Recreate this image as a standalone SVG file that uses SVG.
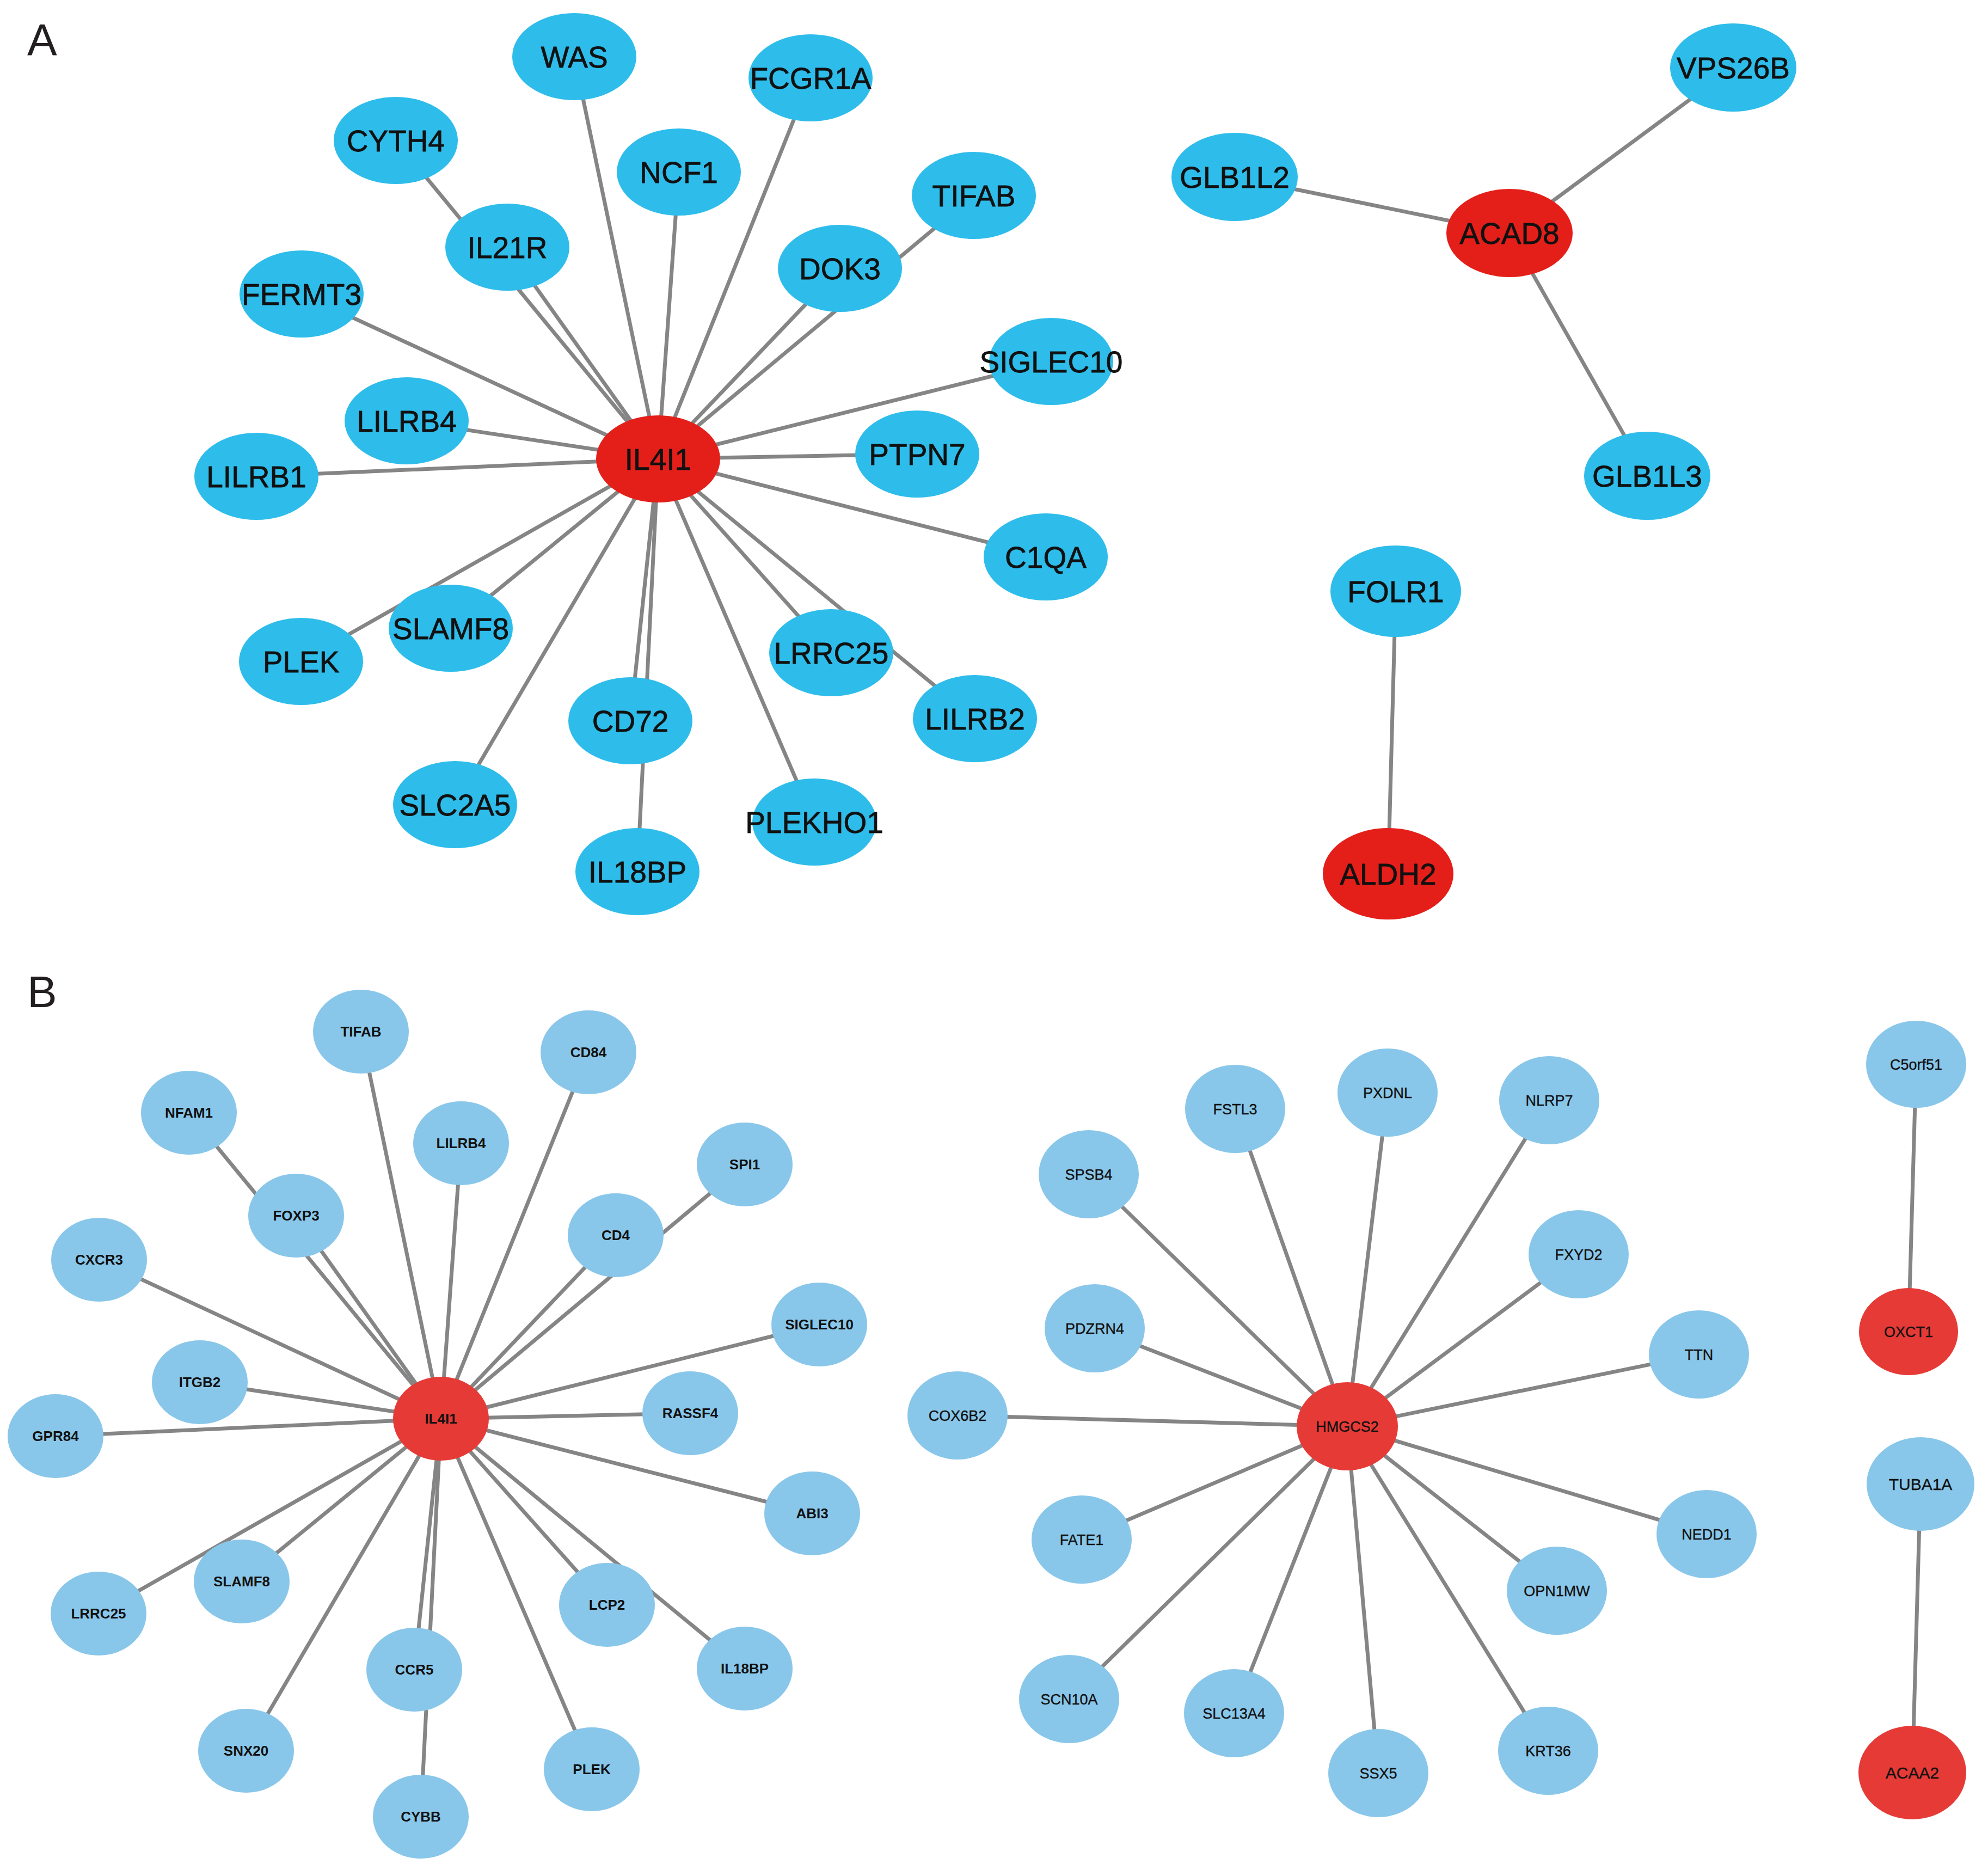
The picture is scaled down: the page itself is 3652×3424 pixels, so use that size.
<svg xmlns="http://www.w3.org/2000/svg" width="3652" height="3424" viewBox="0 0 3652 3424">
<style>
.bg{fill:#ffffff}
.e line{stroke:#858585;stroke-width:7;stroke-linecap:butt}
.na{fill:#2EBDEB}
.ra{fill:#E41F1A}
.nb{fill:#89C7EA}
.rb{fill:#E63A36}
text{font-family:"Liberation Sans",Arial,sans-serif;text-anchor:middle;fill:#111111}
.ta{font-size:55px;stroke:#111111;stroke-width:0.8}
.tb{font-size:26px;font-weight:bold}
.tc{font-size:27px;stroke:#111111;stroke-width:0.4}
.td{font-size:30px;stroke:#111111;stroke-width:0.4}
.lab{font-size:82px;text-anchor:start;fill:#231f20}
</style>
<rect class="bg" x="0" y="0" width="3652" height="3424"/>
<text class="lab" x="50" y="101">A</text>
<text class="lab" x="50" y="1850">B</text>
<g id="connectors" class="e">
<!-- Panel A IL4I1 -->
<line x1="1209" y1="843" x2="1055" y2="104"/>
<line x1="1209" y1="843" x2="1489" y2="143"/>
<line x1="1209" y1="843" x2="727" y2="258"/>
<line x1="1209" y1="843" x2="1247" y2="316"/>
<line x1="1209" y1="843" x2="1789" y2="359"/>
<line x1="1209" y1="843" x2="932" y2="454"/>
<line x1="1209" y1="843" x2="1543" y2="493"/>
<line x1="1209" y1="843" x2="554" y2="540"/>
<line x1="1209" y1="843" x2="1931" y2="664"/>
<line x1="1209" y1="843" x2="747" y2="773"/>
<line x1="1209" y1="843" x2="1685" y2="834"/>
<line x1="1209" y1="843" x2="471" y2="875"/>
<line x1="1209" y1="843" x2="1921" y2="1023"/>
<line x1="1209" y1="843" x2="828" y2="1154"/>
<line x1="1209" y1="843" x2="553" y2="1215"/>
<line x1="1209" y1="843" x2="1527" y2="1199"/>
<line x1="1209" y1="843" x2="1791" y2="1320"/>
<line x1="1209" y1="843" x2="1158" y2="1324"/>
<line x1="1209" y1="843" x2="836" y2="1478"/>
<line x1="1209" y1="843" x2="1496" y2="1510"/>
<line x1="1209" y1="843" x2="1171" y2="1601"/>
<!-- Panel A ACAD8 / ALDH2 -->
<line x1="2773" y1="428" x2="2268" y2="325"/>
<line x1="2773" y1="428" x2="3184" y2="124"/>
<line x1="2773" y1="428" x2="3026" y2="874"/>
<line x1="2564" y1="1086" x2="2550" y2="1605"/>
<!-- Panel B IL4I1 -->
<line x1="810" y1="2606" x2="663" y2="1895"/>
<line x1="810" y1="2606" x2="1081" y2="1933"/>
<line x1="810" y1="2606" x2="347" y2="2044"/>
<line x1="810" y1="2606" x2="847" y2="2100"/>
<line x1="810" y1="2606" x2="1368" y2="2139"/>
<line x1="810" y1="2606" x2="544" y2="2233"/>
<line x1="810" y1="2606" x2="1131" y2="2269"/>
<line x1="810" y1="2606" x2="182" y2="2314"/>
<line x1="810" y1="2606" x2="1505" y2="2433"/>
<line x1="810" y1="2606" x2="367" y2="2539"/>
<line x1="810" y1="2606" x2="1268" y2="2596"/>
<line x1="810" y1="2606" x2="102" y2="2638"/>
<line x1="810" y1="2606" x2="1492" y2="2780"/>
<line x1="810" y1="2606" x2="444" y2="2905"/>
<line x1="810" y1="2606" x2="181" y2="2964"/>
<line x1="810" y1="2606" x2="1115" y2="2948"/>
<line x1="810" y1="2606" x2="1368" y2="3065"/>
<line x1="810" y1="2606" x2="761" y2="3067"/>
<line x1="810" y1="2606" x2="452" y2="3216"/>
<line x1="810" y1="2606" x2="1087" y2="3250"/>
<line x1="810" y1="2606" x2="773" y2="3337"/>
<!-- Panel B HMGCS2 -->
<line x1="2475" y1="2620" x2="2269" y2="2037"/>
<line x1="2475" y1="2620" x2="2549" y2="2007"/>
<line x1="2475" y1="2620" x2="2846" y2="2021"/>
<line x1="2475" y1="2620" x2="2000" y2="2157"/>
<line x1="2475" y1="2620" x2="2900" y2="2304"/>
<line x1="2475" y1="2620" x2="2011" y2="2440"/>
<line x1="2475" y1="2620" x2="3121" y2="2488"/>
<line x1="2475" y1="2620" x2="1759" y2="2600"/>
<line x1="2475" y1="2620" x2="3135" y2="2818"/>
<line x1="2475" y1="2620" x2="1987" y2="2828"/>
<line x1="2475" y1="2620" x2="2860" y2="2922"/>
<line x1="2475" y1="2620" x2="1964" y2="3121"/>
<line x1="2475" y1="2620" x2="2267" y2="3147"/>
<line x1="2475" y1="2620" x2="2532" y2="3257"/>
<line x1="2475" y1="2620" x2="2844" y2="3216"/>
<!-- Panel B pairs -->
<line x1="3520" y1="1955" x2="3506" y2="2446"/>
<line x1="3528" y1="2726" x2="3513" y2="3256"/>
</g>
<!-- Panel A nodes -->
<g id="A_WAS"><ellipse class="na" cx="1055" cy="104" rx="114" ry="80"/><text class="ta" x="1055" y="124">WAS</text></g>
<g id="A_FCGR1A"><ellipse class="na" cx="1489" cy="143" rx="114" ry="80"/><text class="ta" x="1489" y="163">FCGR1A</text></g>
<g id="A_CYTH4"><ellipse class="na" cx="727" cy="258" rx="114" ry="80"/><text class="ta" x="727" y="278">CYTH4</text></g>
<g id="A_NCF1"><ellipse class="na" cx="1247" cy="316" rx="114" ry="80"/><text class="ta" x="1247" y="336">NCF1</text></g>
<g id="A_TIFAB"><ellipse class="na" cx="1789" cy="359" rx="114" ry="80"/><text class="ta" x="1789" y="379">TIFAB</text></g>
<g id="A_IL21R"><ellipse class="na" cx="932" cy="454" rx="114" ry="80"/><text class="ta" x="932" y="474">IL21R</text></g>
<g id="A_DOK3"><ellipse class="na" cx="1543" cy="493" rx="114" ry="80"/><text class="ta" x="1543" y="513">DOK3</text></g>
<g id="A_FERMT3"><ellipse class="na" cx="554" cy="540" rx="114" ry="80"/><text class="ta" x="554" y="560">FERMT3</text></g>
<g id="A_SIGLEC10"><ellipse class="na" cx="1931" cy="664" rx="114" ry="80"/><text class="ta" x="1931" y="684">SIGLEC10</text></g>
<g id="A_LILRB4"><ellipse class="na" cx="747" cy="773" rx="114" ry="80"/><text class="ta" x="747" y="793">LILRB4</text></g>
<g id="A_IL4I1"><ellipse class="ra" cx="1209" cy="843" rx="114" ry="80"/><text class="ta" x="1209" y="863">IL4I1</text></g>
<g id="A_PTPN7"><ellipse class="na" cx="1685" cy="834" rx="114" ry="80"/><text class="ta" x="1685" y="854">PTPN7</text></g>
<g id="A_LILRB1"><ellipse class="na" cx="471" cy="875" rx="114" ry="80"/><text class="ta" x="471" y="895">LILRB1</text></g>
<g id="A_C1QA"><ellipse class="na" cx="1921" cy="1023" rx="114" ry="80"/><text class="ta" x="1921" y="1043">C1QA</text></g>
<g id="A_SLAMF8"><ellipse class="na" cx="828" cy="1154" rx="114" ry="80"/><text class="ta" x="828" y="1174">SLAMF8</text></g>
<g id="A_PLEK"><ellipse class="na" cx="553" cy="1215" rx="114" ry="80"/><text class="ta" x="553" y="1235">PLEK</text></g>
<g id="A_LRRC25"><ellipse class="na" cx="1527" cy="1199" rx="114" ry="80"/><text class="ta" x="1527" y="1219">LRRC25</text></g>
<g id="A_LILRB2"><ellipse class="na" cx="1791" cy="1320" rx="114" ry="80"/><text class="ta" x="1791" y="1340">LILRB2</text></g>
<g id="A_CD72"><ellipse class="na" cx="1158" cy="1324" rx="114" ry="80"/><text class="ta" x="1158" y="1344">CD72</text></g>
<g id="A_SLC2A5"><ellipse class="na" cx="836" cy="1478" rx="114" ry="80"/><text class="ta" x="836" y="1498">SLC2A5</text></g>
<g id="A_PLEKHO1"><ellipse class="na" cx="1496" cy="1510" rx="114" ry="80"/><text class="ta" x="1496" y="1530">PLEKHO1</text></g>
<g id="A_IL18BP"><ellipse class="na" cx="1171" cy="1601" rx="114" ry="80"/><text class="ta" x="1171" y="1621">IL18BP</text></g>
<g id="A_VPS26B"><ellipse class="na" cx="3184" cy="124" rx="116" ry="81"/><text class="ta" x="3184" y="144">VPS26B</text></g>
<g id="A_GLB1L2"><ellipse class="na" cx="2268" cy="325" rx="116" ry="81"/><text class="ta" x="2268" y="345">GLB1L2</text></g>
<g id="A_ACAD8"><ellipse class="ra" cx="2773" cy="428" rx="116" ry="81"/><text class="ta" x="2773" y="448">ACAD8</text></g>
<g id="A_GLB1L3"><ellipse class="na" cx="3026" cy="874" rx="116" ry="81"/><text class="ta" x="3026" y="894">GLB1L3</text></g>
<g id="A_FOLR1"><ellipse class="na" cx="2564" cy="1086" rx="120" ry="84"/><text class="ta" x="2564" y="1106">FOLR1</text></g>
<g id="A_ALDH2"><ellipse class="ra" cx="2550" cy="1605" rx="120" ry="84"/><text class="ta" x="2550" y="1625">ALDH2</text></g>
<!-- Panel B left nodes -->
<g id="B_TIFAB"><ellipse class="nb" cx="663" cy="1895" rx="88" ry="77"/><text class="tb" x="663" y="1904">TIFAB</text></g>
<g id="B_CD84"><ellipse class="nb" cx="1081" cy="1933" rx="88" ry="77"/><text class="tb" x="1081" y="1942">CD84</text></g>
<g id="B_NFAM1"><ellipse class="nb" cx="347" cy="2044" rx="88" ry="77"/><text class="tb" x="347" y="2053">NFAM1</text></g>
<g id="B_LILRB4"><ellipse class="nb" cx="847" cy="2100" rx="88" ry="77"/><text class="tb" x="847" y="2109">LILRB4</text></g>
<g id="B_SPI1"><ellipse class="nb" cx="1368" cy="2139" rx="88" ry="77"/><text class="tb" x="1368" y="2148">SPI1</text></g>
<g id="B_FOXP3"><ellipse class="nb" cx="544" cy="2233" rx="88" ry="77"/><text class="tb" x="544" y="2242">FOXP3</text></g>
<g id="B_CD4"><ellipse class="nb" cx="1131" cy="2269" rx="88" ry="77"/><text class="tb" x="1131" y="2278">CD4</text></g>
<g id="B_CXCR3"><ellipse class="nb" cx="182" cy="2314" rx="88" ry="77"/><text class="tb" x="182" y="2323">CXCR3</text></g>
<g id="B_SIGLEC10"><ellipse class="nb" cx="1505" cy="2433" rx="88" ry="77"/><text class="tb" x="1505" y="2442">SIGLEC10</text></g>
<g id="B_ITGB2"><ellipse class="nb" cx="367" cy="2539" rx="88" ry="77"/><text class="tb" x="367" y="2548">ITGB2</text></g>
<g id="B_IL4I1"><ellipse class="rb" cx="810" cy="2606" rx="88" ry="77"/><text class="tb" x="810" y="2615">IL4I1</text></g>
<g id="B_RASSF4"><ellipse class="nb" cx="1268" cy="2596" rx="88" ry="77"/><text class="tb" x="1268" y="2605">RASSF4</text></g>
<g id="B_GPR84"><ellipse class="nb" cx="102" cy="2638" rx="88" ry="77"/><text class="tb" x="102" y="2647">GPR84</text></g>
<g id="B_ABI3"><ellipse class="nb" cx="1492" cy="2780" rx="88" ry="77"/><text class="tb" x="1492" y="2789">ABI3</text></g>
<g id="B_SLAMF8"><ellipse class="nb" cx="444" cy="2905" rx="88" ry="77"/><text class="tb" x="444" y="2914">SLAMF8</text></g>
<g id="B_LRRC25"><ellipse class="nb" cx="181" cy="2964" rx="88" ry="77"/><text class="tb" x="181" y="2973">LRRC25</text></g>
<g id="B_LCP2"><ellipse class="nb" cx="1115" cy="2948" rx="88" ry="77"/><text class="tb" x="1115" y="2957">LCP2</text></g>
<g id="B_IL18BP"><ellipse class="nb" cx="1368" cy="3065" rx="88" ry="77"/><text class="tb" x="1368" y="3074">IL18BP</text></g>
<g id="B_CCR5"><ellipse class="nb" cx="761" cy="3067" rx="88" ry="77"/><text class="tb" x="761" y="3076">CCR5</text></g>
<g id="B_SNX20"><ellipse class="nb" cx="452" cy="3216" rx="88" ry="77"/><text class="tb" x="452" y="3225">SNX20</text></g>
<g id="B_PLEK"><ellipse class="nb" cx="1087" cy="3250" rx="88" ry="77"/><text class="tb" x="1087" y="3259">PLEK</text></g>
<g id="B_CYBB"><ellipse class="nb" cx="773" cy="3337" rx="88" ry="77"/><text class="tb" x="773" y="3346">CYBB</text></g>
<!-- Panel B right nodes -->
<g id="B_FSTL3"><ellipse class="nb" cx="2269" cy="2037" rx="92" ry="81"/><text class="tc" x="2269" y="2047">FSTL3</text></g>
<g id="B_PXDNL"><ellipse class="nb" cx="2549" cy="2007" rx="92" ry="81"/><text class="tc" x="2549" y="2017">PXDNL</text></g>
<g id="B_NLRP7"><ellipse class="nb" cx="2846" cy="2021" rx="92" ry="81"/><text class="tc" x="2846" y="2031">NLRP7</text></g>
<g id="B_SPSB4"><ellipse class="nb" cx="2000" cy="2157" rx="92" ry="81"/><text class="tc" x="2000" y="2167">SPSB4</text></g>
<g id="B_FXYD2"><ellipse class="nb" cx="2900" cy="2304" rx="92" ry="81"/><text class="tc" x="2900" y="2314">FXYD2</text></g>
<g id="B_PDZRN4"><ellipse class="nb" cx="2011" cy="2440" rx="92" ry="81"/><text class="tc" x="2011" y="2450">PDZRN4</text></g>
<g id="B_TTN"><ellipse class="nb" cx="3121" cy="2488" rx="92" ry="81"/><text class="tc" x="3121" y="2498">TTN</text></g>
<g id="B_COX6B2"><ellipse class="nb" cx="1759" cy="2600" rx="92" ry="81"/><text class="tc" x="1759" y="2610">COX6B2</text></g>
<g id="B_HMGCS2"><ellipse class="rb" cx="2475" cy="2620" rx="93" ry="81"/><text class="tc" x="2475" y="2630">HMGCS2</text></g>
<g id="B_NEDD1"><ellipse class="nb" cx="3135" cy="2818" rx="92" ry="81"/><text class="tc" x="3135" y="2828">NEDD1</text></g>
<g id="B_FATE1"><ellipse class="nb" cx="1987" cy="2828" rx="92" ry="81"/><text class="tc" x="1987" y="2838">FATE1</text></g>
<g id="B_OPN1MW"><ellipse class="nb" cx="2860" cy="2922" rx="92" ry="81"/><text class="tc" x="2860" y="2932">OPN1MW</text></g>
<g id="B_SCN10A"><ellipse class="nb" cx="1964" cy="3121" rx="92" ry="81"/><text class="tc" x="1964" y="3131">SCN10A</text></g>
<g id="B_SLC13A4"><ellipse class="nb" cx="2267" cy="3147" rx="92" ry="81"/><text class="tc" x="2267" y="3157">SLC13A4</text></g>
<g id="B_SSX5"><ellipse class="nb" cx="2532" cy="3257" rx="92" ry="81"/><text class="tc" x="2532" y="3267">SSX5</text></g>
<g id="B_KRT36"><ellipse class="nb" cx="2844" cy="3216" rx="92" ry="81"/><text class="tc" x="2844" y="3226">KRT36</text></g>
<g id="B_C5orf51"><ellipse class="nb" cx="3520" cy="1955" rx="92" ry="80"/><text class="tc" x="3520" y="1965">C5orf51</text></g>
<g id="B_OXCT1"><ellipse class="rb" cx="3506" cy="2446" rx="91" ry="80"/><text class="tc" x="3506" y="2456">OXCT1</text></g>
<g id="B_TUBA1A"><ellipse class="nb" cx="3528" cy="2726" rx="99" ry="86"/><text class="td" x="3528" y="2737">TUBA1A</text></g>
<g id="B_ACAA2"><ellipse class="rb" cx="3513" cy="3256" rx="99" ry="86"/><text class="td" x="3513" y="3267">ACAA2</text></g>
</svg>
